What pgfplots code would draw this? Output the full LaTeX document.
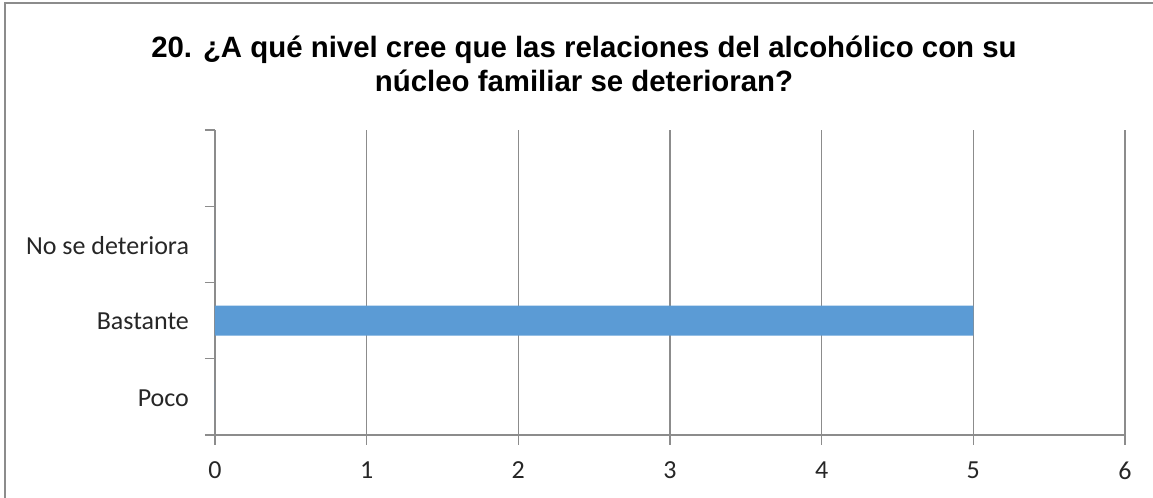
\documentclass[border=0pt]{standalone}
\usepackage{fontspec}
\setmainfont{Carlito}
\newfontfamily\titlefont{Liberation Sans}
\usepackage{pgfplots}
\usetikzlibrary{calc}
\pgfplotsset{compat=1.18}
\definecolor{barblue}{HTML}{5B9BD5}
\definecolor{gridgray}{HTML}{8C8C8C}
\definecolor{framegray}{HTML}{8C8C8C}
\begin{document}
\begin{tikzpicture}
\begin{axis}[
  scale only axis, width=455pt, height=152.5pt,
  xmin=0, xmax=6, ymin=-0.5, ymax=3.5,
  axis x line*=bottom, axis y line*=left,
  axis line style={gridgray, line width=0.7pt},
  every tick/.style={gridgray, line width=0.7pt},
  tick align=outside, major tick length=5pt,
  xtick={0,1,2,3,4,5,6},
  xmajorgrids, grid style={gridgray, line width=0.7pt},
  ytick={-0.5,0.5,1.5,2.5,3.5}, yticklabels={},
  extra y ticks={0,1,2},
  extra y tick labels={Poco,Bastante,No se deteriora},
  extra y tick style={major tick length=0pt, ymajorgrids=false, yticklabel style={xshift=-9.5pt, yshift=-0.5pt}},
  ticklabel style={font=\fontsize{13}{15}\selectfont, text=black!85},
  xticklabel style={/pgf/number format/assume math mode=true, yshift=-5pt},
  clip=false,
]
\addplot[xbar, bar width=15pt, fill=barblue, draw=none] coordinates {(0,0) (5,1) (0,2)};
\coordinate (SW) at (rel axis cs:0,0);
\end{axis}
\node[font=\titlefont\bfseries\fontsize{14.7}{17}\selectfont, anchor=base] at ($(SW)+(184.5pt,188.5pt)$)
  {20. ¿A qué nivel cree que las relaciones del alcohólico con su};
\node[font=\titlefont\bfseries\fontsize{14.7}{17}\selectfont, anchor=base] at ($(SW)+(184.5pt,171.5pt)$)
  {núcleo familiar se deterioran?};
\draw[framegray, line width=0.8pt] ($(SW)+(-105pt,-31.5pt)$) -- ($(SW)+(-105pt,216pt)$) -- ($(SW)+(469pt,216pt)$);
\pgfresetboundingbox
\path ($(SW)+(-107.5pt,-31.5pt)$) rectangle ($(SW)+(469pt,217.5pt)$);
\end{tikzpicture}
\end{document}
